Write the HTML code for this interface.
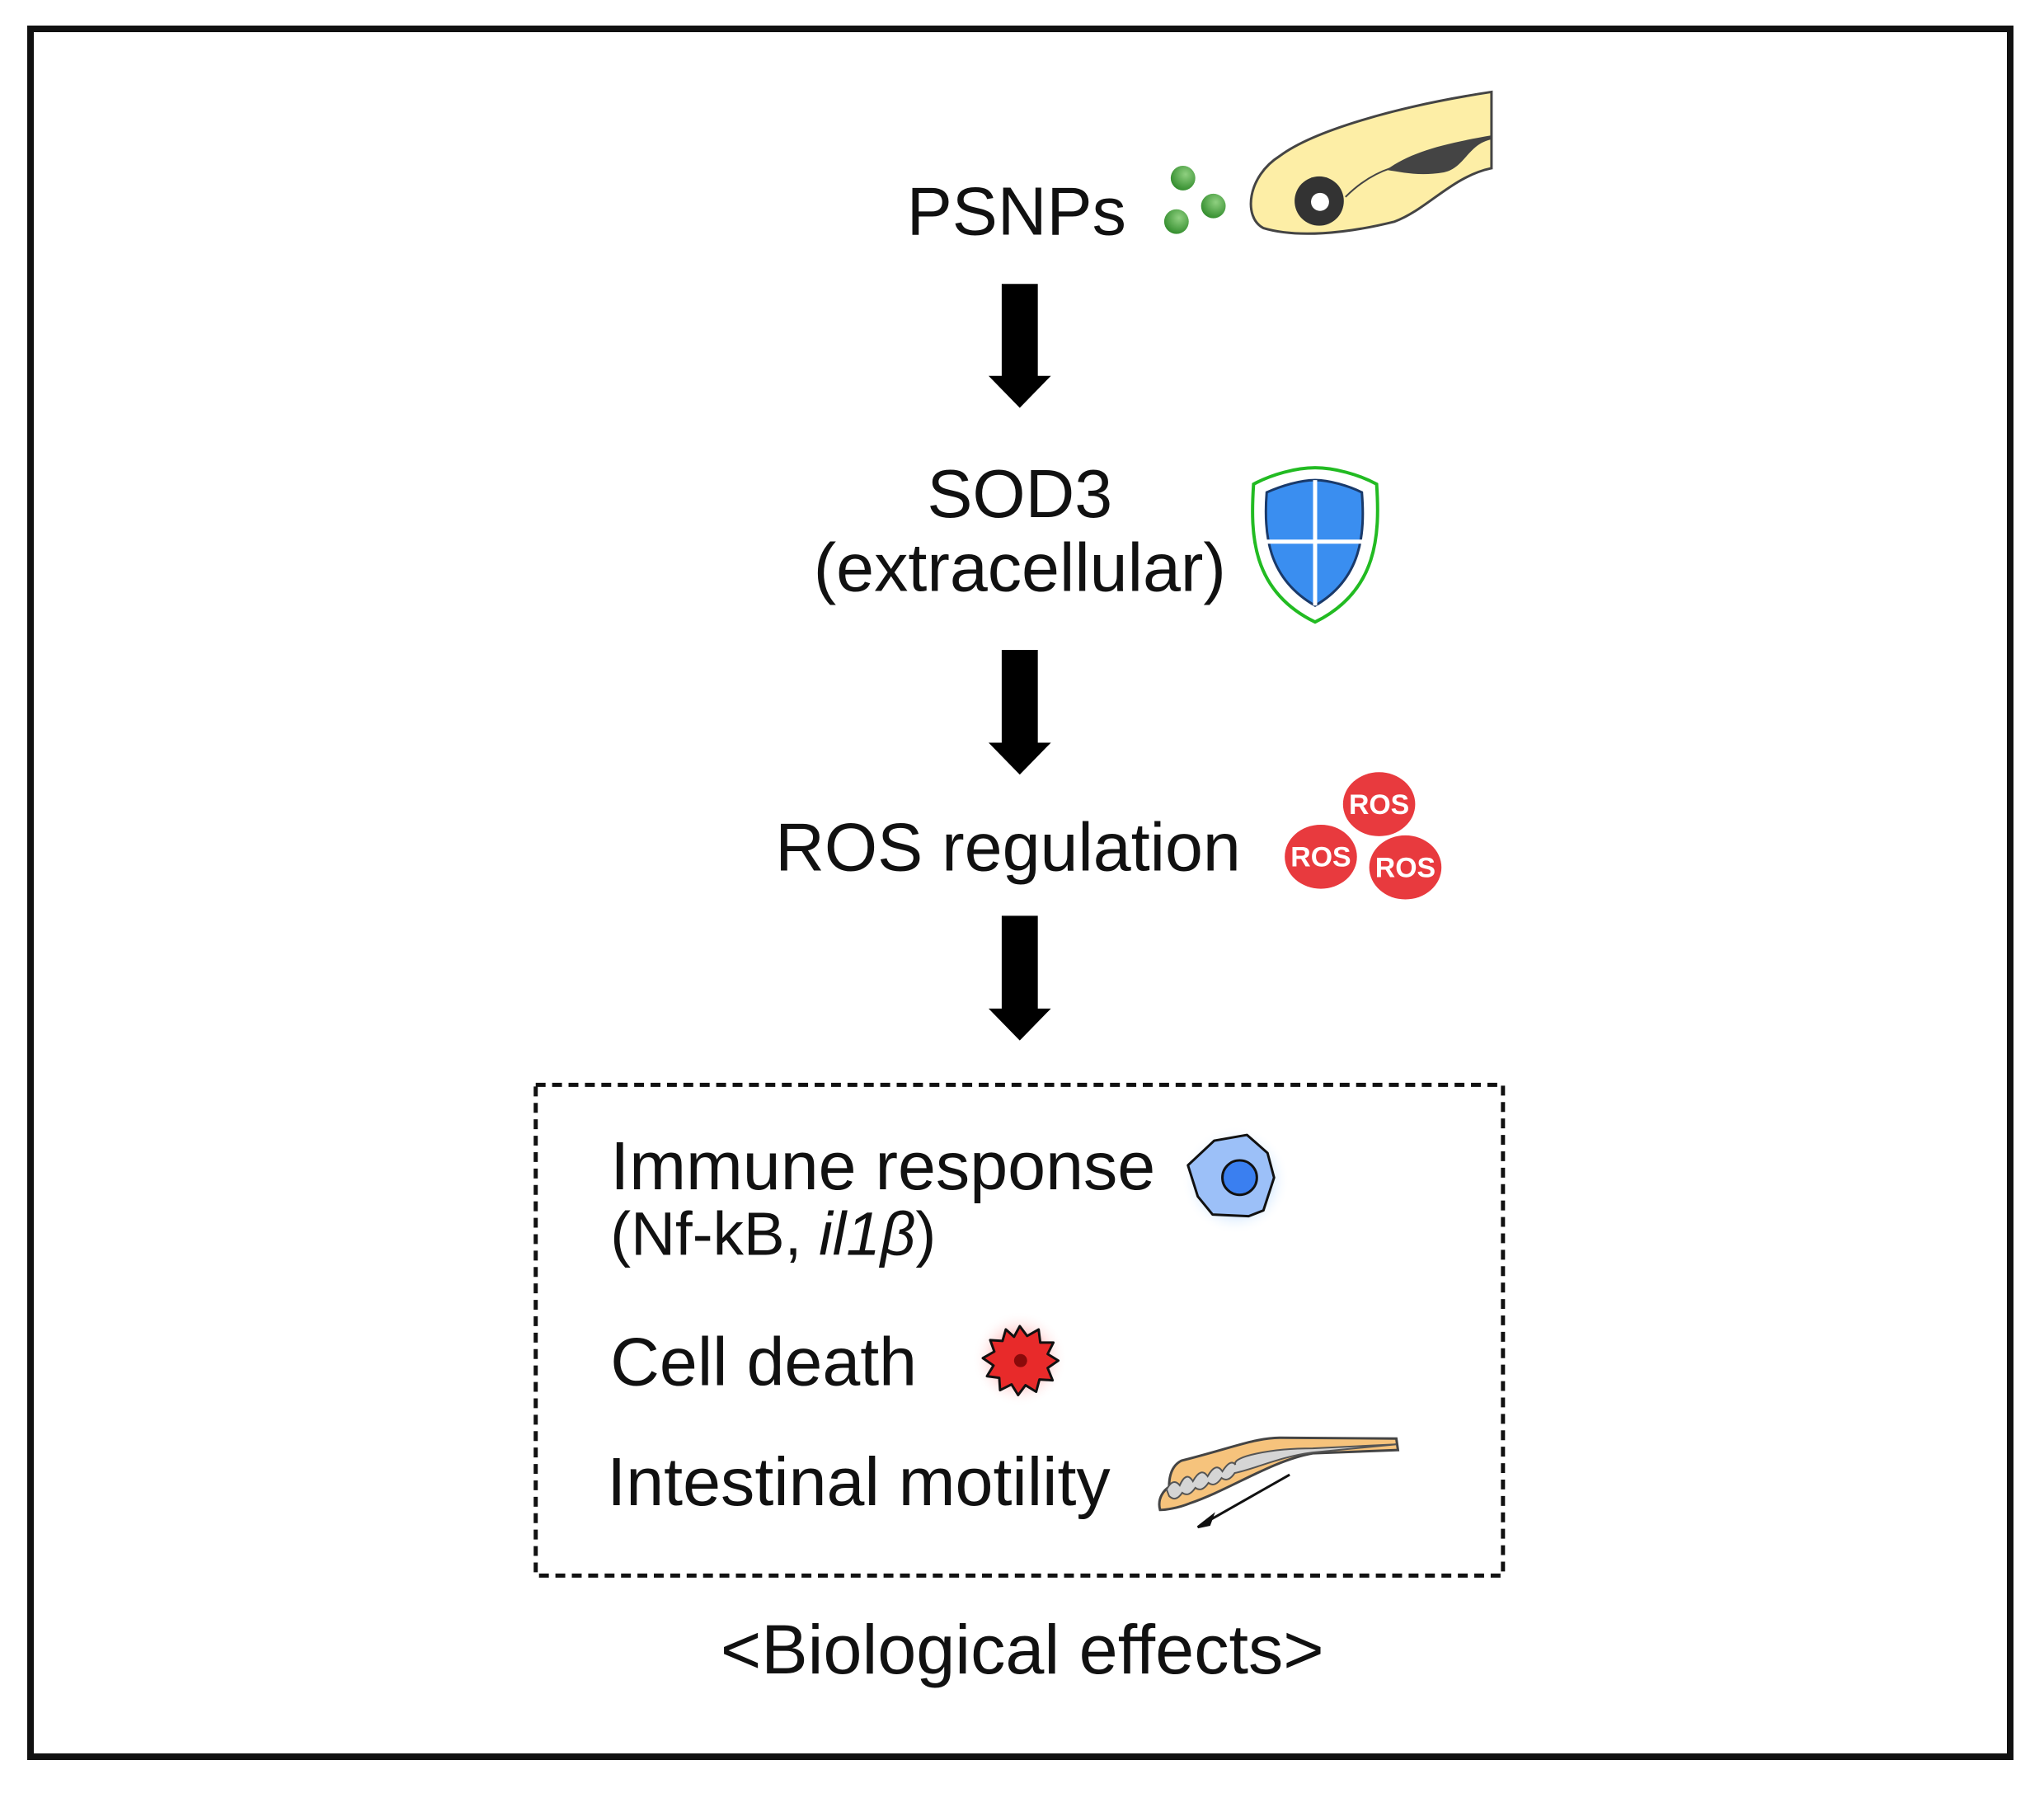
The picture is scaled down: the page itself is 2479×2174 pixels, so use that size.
<!DOCTYPE html>
<html><head><meta charset="utf-8"><style>
html,body{margin:0;padding:0;background:#fff;}
svg{display:block;}
text{font-family:"Liberation Sans",Arial,sans-serif;fill:#111;}
</style></head><body>
<svg width="2479" height="2174" viewBox="0 0 2479 2174" xmlns="http://www.w3.org/2000/svg">
<defs>
<radialGradient id="gd" cx="0.6" cy="0.35" r="0.7"><stop offset="0" stop-color="#8fd080"/><stop offset="1" stop-color="#2f8a2a"/></radialGradient>
<radialGradient id="glowB" r="0.5"><stop offset="0.6" stop-color="#cfe6ff"/><stop offset="1" stop-color="#fff" stop-opacity="0"/></radialGradient>
<radialGradient id="glowR" r="0.5"><stop offset="0.5" stop-color="#ffc4c4"/><stop offset="1" stop-color="#fff" stop-opacity="0"/></radialGradient>
</defs>
<rect x="37" y="35" width="2401" height="2095" fill="none" stroke="#111" stroke-width="8"/>
<g transform="scale(0.995)">
<!-- PSNPs -->
<text x="1239" y="286" font-size="83" text-anchor="middle">PSNPs</text>
<circle cx="1442" cy="217" r="15" fill="url(#gd)"/>
<circle cx="1479" cy="251" r="15" fill="url(#gd)"/>
<circle cx="1434" cy="270" r="15" fill="url(#gd)"/>
<!-- fish -->
<path d="M1818 112 C1700 130 1600 160 1560 190 C1520 215 1515 265 1540 278 C1580 290 1640 285 1700 270 C1740 255 1770 215 1818 205 Z" fill="#fdeea6" stroke="#444" stroke-width="3"/>
<path d="M1690 207 C1720 185 1760 175 1818 165 L1818 170 C1790 175 1785 205 1760 210 C1730 215 1710 210 1690 207 Z" fill="#444"/>
<path d="M1640 240 C1660 220 1680 210 1695 205" fill="none" stroke="#444" stroke-width="2"/>
<circle cx="1608" cy="245" r="30" fill="#333"/>
<circle cx="1609" cy="246" r="11" fill="#fff"/>

<!-- arrow 1 -->
<polygon points="1221,346 1265,346 1265,458 1281,458 1243,497 1205,458 1221,458" fill="#000"/>

<!-- SOD3 -->
<text x="1243" y="630" font-size="83" text-anchor="middle">SOD3</text>
<text x="1243" y="720" font-size="83" text-anchor="middle">(extracellular)</text>
<path d="M1603 570 C1580 570 1550 578 1528 590 C1524 650 1525 720 1603 758 C1680 720 1682 650 1678 590 C1656 578 1626 570 1603 570 Z" fill="#fff" stroke="#22bb22" stroke-width="4"/>
<path d="M1603 585 C1585 585 1562 592 1544 600 C1540 650 1545 705 1603 738 C1660 705 1664 650 1660 600 C1644 592 1620 585 1603 585 Z" fill="#3a8ef0" stroke="#1a3a6a" stroke-width="3"/>
<line x1="1603" y1="585" x2="1603" y2="738" stroke="#fff" stroke-width="5"/>
<line x1="1543" y1="660" x2="1663" y2="660" stroke="#fff" stroke-width="5"/>

<!-- arrow 2 -->
<polygon points="1221,792 1265,792 1265,905 1281,905 1243,944 1205,905 1221,905" fill="#000"/>

<!-- ROS -->
<text x="945" y="1061" font-size="83">ROS regulation</text>
<g font-size="34" font-weight="bold">
<ellipse cx="1681" cy="980" rx="44" ry="39" fill="#e83a3e"/><text x="1681" y="992" text-anchor="middle" style="fill:#fff">ROS</text>
<ellipse cx="1610" cy="1044" rx="44" ry="39" fill="#e83a3e"/><text x="1610" y="1056" text-anchor="middle" style="fill:#fff">ROS</text>
<ellipse cx="1713" cy="1057" rx="44" ry="39" fill="#e83a3e"/><text x="1713" y="1069" text-anchor="middle" style="fill:#fff">ROS</text>
</g>

<!-- arrow 3 -->
<polygon points="1221,1116 1265,1116 1265,1229 1281,1229 1243,1268 1205,1229 1221,1229" fill="#000"/>

<!-- dashed box -->
<rect x="653" y="1322" width="1179" height="598" fill="none" stroke="#111" stroke-width="5" stroke-dasharray="12,8"/>

<text x="744" y="1449" font-size="83">Immune response</text>
<text x="744" y="1529" font-size="75">(Nf-kB, <tspan font-style="italic">il1β</tspan>)</text>
<circle cx="1506" cy="1438" r="66" fill="url(#glowB)"/>
<path d="M1480 1390 L1520 1383 L1545 1405 L1553 1435 L1540 1475 L1522 1482 L1478 1480 L1460 1458 L1448 1420 Z" fill="#9cc0f8" stroke="#111" stroke-width="3" stroke-linejoin="round"/>
<circle cx="1511" cy="1435" r="21" fill="#3a7ff0" stroke="#111" stroke-width="3"/>

<text x="744" y="1688" font-size="83">Cell death</text>
<circle cx="1243" cy="1656" r="58" fill="url(#glowR)"/>
<polygon points="1243,1616 1252,1628 1266,1620 1268,1636 1284,1636 1277,1650 1290,1658 1277,1667 1283,1682 1267,1681 1263,1696 1250,1688 1241,1700 1233,1687 1219,1694 1218,1679 1203,1677 1211,1664 1198,1655 1212,1647 1207,1633 1222,1634 1226,1620 1236,1629" fill="#e82a2a" stroke="#111" stroke-width="3" stroke-linejoin="round"/>
<circle cx="1244" cy="1658" r="8" fill="#8a0a0a"/>

<text x="740" y="1834" font-size="83">Intestinal motility</text>
<path d="M1414 1840 C1410 1825 1420 1815 1425 1812 C1425 1795 1430 1785 1440 1780 C1500 1765 1530 1752 1560 1752 L1702 1753 L1704 1767 L1600 1771 C1550 1780 1500 1815 1450 1832 C1435 1838 1420 1840 1414 1840 Z" fill="#f6c37c" stroke="#444" stroke-width="3"/>
<path d="M1422 1815 q8 -15 16 -5 q8 -18 16 -5 q10 -18 18 -6 q10 -18 18 -6 q10 -16 16 -8 C1500 1775 1550 1765 1600 1765 L1702 1760 L1600 1770 C1560 1775 1530 1790 1505 1795 q-8 12 -16 6 q-8 12 -16 6 q-8 12 -16 6 q-8 12 -16 6 q-8 12 -16 4 Z" fill="#d5d5d5" stroke="#555" stroke-width="2"/>
<line x1="1572" y1="1797" x2="1470" y2="1855" stroke="#111" stroke-width="3"/>
<polygon points="1460,1861 1478,1847 1474,1858" fill="#111" stroke="#111" stroke-width="3"/>

<text x="1246" y="2039" font-size="85" text-anchor="middle">&lt;Biological effects&gt;</text>
</g>
</svg>
</body></html>
